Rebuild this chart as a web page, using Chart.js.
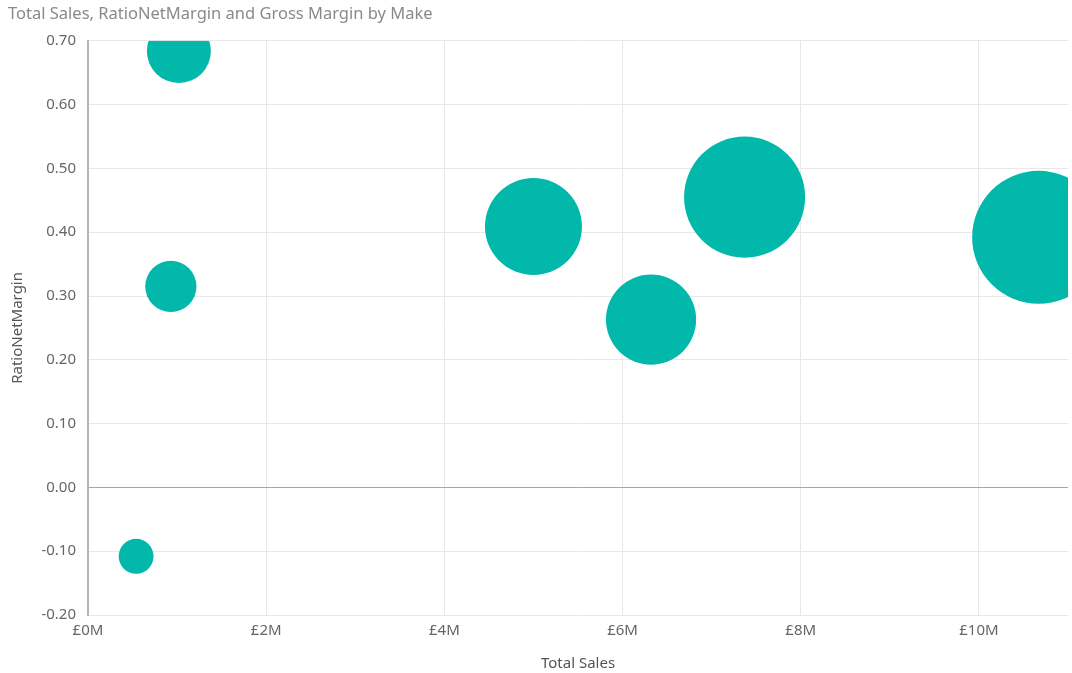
<!DOCTYPE html>
<html lang="en">
<head>
    <meta charset="UTF-8">
    <title>Total Sales, RatioNetMargin and Gross Margin by Make</title>
    <script src="https://cdn.jsdelivr.net/npm/chart.js"></script>
    <style>
        html, body {
            margin: 0;
            padding: 0;
            overflow: hidden;
            background-color: #ffffff;
        }
        canvas {
            display: block;
        }
    </style>
</head>
<body>
    <canvas id="bubbleChart" width="1072" height="673"></canvas>

    <script>
        // one entry per make
        const makes = ['Make A', 'Make B', 'Make C', 'Make D', 'Make E', 'Make F', 'Make G'];
        const totalSales = [1.02, 0.93, 0.54, 5.00, 6.32, 7.37, 10.67];      // £M
        const ratioNetMargin = [0.684, 0.315, -0.108, 0.409, 0.263, 0.455, 0.392];
        const grossMargin = [0.64, 0.41, 0.19, 1.47, 1.27, 2.29, 2.76];      // £M, sets bubble size

        const xTicks = [0, 2, 4, 6, 8, 10];

        const teal = '#01B8AA';
        const fontFamily = "'Noto Sans', 'Open Sans', sans-serif";

        const points = makes.map((m, i) => ({
            x: totalSales[i],
            y: ratioNetMargin[i],
            r: Math.sqrt(grossMargin[i]) * 40
        }));

        // bubbles get cut off at the plot edges, like the original
        const clipToArea = {
            id: 'clipToArea',
            beforeDatasetsDraw(chart) {
                const a = chart.chartArea;
                chart.ctx.save();
                chart.ctx.beginPath();
                chart.ctx.rect(a.left, a.top, a.right - a.left, a.bottom - a.top);
                chart.ctx.clip();
            },
            afterDatasetsDraw(chart) {
                chart.ctx.restore();
            }
        };

        const ctx = document.getElementById('bubbleChart').getContext('2d');
        new Chart(ctx, {
            type: 'bubble',
            data: {
                datasets: [{
                    label: 'Gross Margin',
                    data: points,
                    backgroundColor: teal,
                    borderColor: teal,
                    borderWidth: 0,
                    hoverBorderWidth: 0
                }]
            },
            plugins: [clipToArea],
            options: {
                responsive: false,
                animation: false,
                layout: {
                    autoPadding: false,
                    padding: { left: 8, right: 4, top: 0, bottom: 0 }
                },
                plugins: {
                    legend: { display: false },
                    tooltip: { enabled: false },
                    title: {
                        display: true,
                        text: 'Total Sales, RatioNetMargin and Gross Margin by Make',
                        align: 'start',
                        color: '#8a8a8a',
                        font: { family: fontFamily, size: 16.5, weight: 'normal', lineHeight: 1.2 },
                        padding: { top: 4, bottom: 17 }
                    }
                },
                scales: {
                    x: {
                        type: 'linear',
                        min: 0,
                        max: 11,
                        afterBuildTicks: (scale) => {
                            scale.ticks = xTicks.map(v => ({ value: v }));
                        },
                        afterFit: (scale) => { scale.height = 58; },
                        ticks: {
                            color: '#666666',
                            font: { family: fontFamily, size: 15 },
                            padding: 7,
                            maxRotation: 0,
                            callback: (v) => '£' + v + 'M'
                        },
                        grid: {
                            color: '#e8e8e8',
                            drawTicks: false
                        },
                        border: { display: false },
                        title: {
                            display: true,
                            text: 'Total Sales',
                            color: '#555555',
                            font: { family: fontFamily, size: 15 },
                            padding: { top: 8, bottom: 0 }
                        }
                    },
                    y: {
                        min: -0.2,
                        max: 0.7,
                        afterFit: (scale) => { scale.width = 80; },
                        ticks: {
                            stepSize: 0.1,
                            color: '#666666',
                            font: { family: fontFamily, size: 15 },
                            padding: 12,
                            callback: (v) => (Math.abs(v) < 1e-9 ? 0 : v).toFixed(2)
                        },
                        grid: {
                            color: (c) => (Math.abs(c.tick.value) < 1e-9 ? '#a6a6a6' : '#e8e8e8'),
                            drawTicks: false
                        },
                        border: { color: '#b4b4b4', width: 2 },
                        title: {
                            display: true,
                            text: 'RatioNetMargin',
                            color: '#555555',
                            font: { family: fontFamily, size: 15 },
                            padding: { top: 1, bottom: 0 }
                        }
                    }
                }
            }
        });
    </script>
</body>
</html>
